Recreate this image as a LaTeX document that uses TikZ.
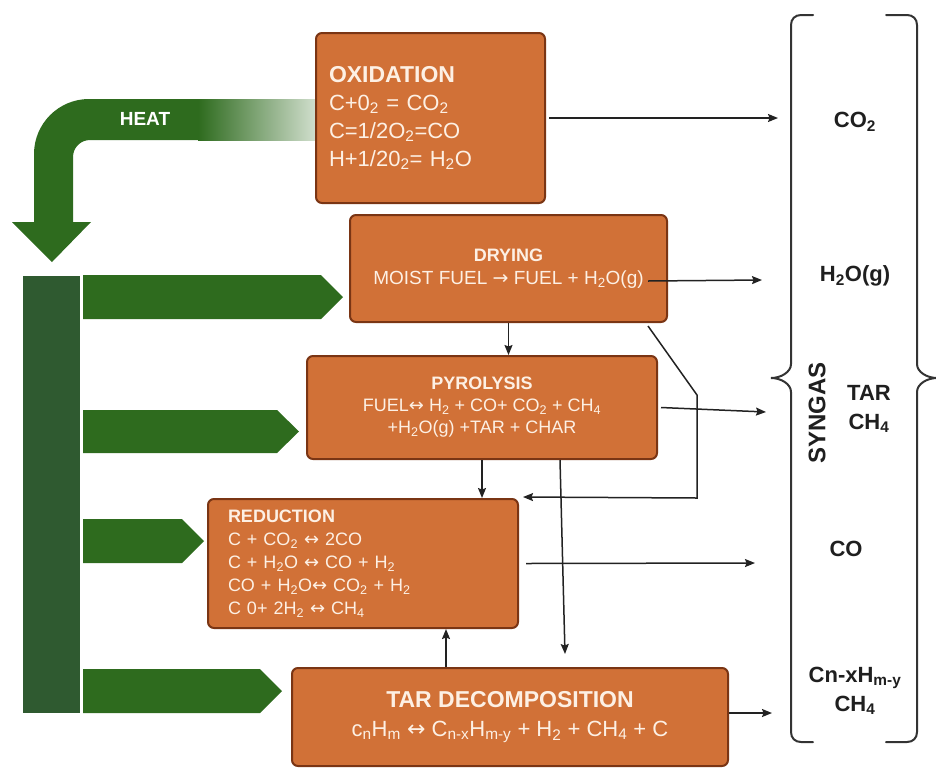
\documentclass[tikz,border=0pt]{standalone}
\usepackage{fontspec}
\setmainfont{Liberation Sans}
\newfontfamily\arrowfont{DejaVu Sans}
\newcommand{\myra}{{\arrowfont →}}
\newcommand{\mylr}{{\arrowfont ↔}}
\usetikzlibrary{arrows.meta,calc}
\definecolor{boxfill}{HTML}{D17137}
\definecolor{boxdraw}{HTML}{7A3514}
\definecolor{boxtext}{HTML}{FDF0E4}
\definecolor{heatgreen}{HTML}{2E6B1E}
\definecolor{bargreen}{HTML}{2F5A30}
\definecolor{lineblack}{HTML}{222222}
\definecolor{bracecol}{HTML}{333333}
\tikzset{
  procbox/.style={draw=boxdraw, line width=2pt, fill=boxfill, rounded corners=6pt, text=boxtext, inner sep=0pt},
  arr/.style={draw=lineblack, line width=1.5pt, -{Stealth[length=10pt,width=8pt,inset=1.5pt]}},
  outlbl/.style={font=\fontsize{22}{29}\selectfont\bfseries, text=black!88, align=center, inner sep=0pt},
  bracestyle/.style={draw=bracecol, line width=2pt, line cap=round},
  gfill/.style={fill=heatgreen},
}
\begin{document}
\begin{tikzpicture}[x=1pt,y=-1pt]
\useasboundingbox (0,0) rectangle (936,769);

% heat arrow
\fill[heatgreen] (200,99) -- (89,99) .. controls (58.6,99) and (34,123.6) .. (34,154) -- (34,222) -- (12,222) -- (52,262) -- (91,222) -- (73,222) -- (73,157) .. controls (73,147.6) and (80.6,140) .. (90,140) -- (200,140) -- cycle;
\shade[left color=heatgreen, right color=heatgreen!22!white] (198,99) rectangle (316,140);
\node[font=\fontsize{19}{22}\selectfont\bfseries, text=white] (heat) at (145,119) {HEAT};

% bar and green arrows
\fill[bargreen] (23,276) rectangle (80,713);
\fill[gfill] (83,275) -- (321,275) -- (343,297) -- (321,319) -- (83,319) -- cycle;
\fill[gfill] (83,410) -- (277,410) -- (299,431.5) -- (277,453) -- (83,453) -- cycle;
\fill[gfill] (83,519) -- (182,519) -- (204,541) -- (182,563) -- (83,563) -- cycle;
\fill[gfill] (83,669) -- (260,669) -- (282,691) -- (260,713) -- (83,713) -- cycle;

% process boxes
\node[procbox, minimum width=229pt, minimum height=170pt, text width=203pt, align=left, font=\fontsize{22}{28}\selectfont] (ox) at (430.5,118)
 {{\fontsize{23}{28}\selectfont\bfseries OXIDATION}\\C+0\textsubscript{2} = CO\textsubscript{2}\\C=1/2O\textsubscript{2}=CO\\H+1/20\textsubscript{2}= H\textsubscript{2}O};

\node[procbox, minimum width=317pt, minimum height=107pt, align=center, font=\fontsize{19}{23}\selectfont] (dry) at (508.5,268.5)
 {{\fontsize{18}{23}\selectfont\bfseries DRYING}\\MOIST FUEL \myra\ FUEL + H\textsubscript{2}O(g)};

\node[procbox, minimum width=350pt, minimum height=103pt, align=center, font=\fontsize{18}{22}\selectfont] (pyro) at (482,407.5)
 {{\bfseries PYROLYSIS}\\FUEL\mylr\ H\textsubscript{2} + CO+ CO\textsubscript{2} + CH\textsubscript{4}\\+H\textsubscript{2}O(g) +TAR + CHAR};

\node[procbox, minimum width=310pt, minimum height=129pt, text width=270pt, align=left, font=\fontsize{18}{23}\selectfont] (red) at (363,563.5)
 {{\bfseries REDUCTION}\\C + CO\textsubscript{2} \mylr\ 2CO\\C + H\textsubscript{2}O \mylr\ CO + H\textsubscript{2}\\CO + H\textsubscript{2}O\mylr\ CO\textsubscript{2} + H\textsubscript{2}\\C 0+ 2H\textsubscript{2} \mylr\ CH\textsubscript{4}};

\node[procbox, minimum width=436pt, minimum height=98pt, align=center, font=\fontsize{22}{29}\selectfont] (tar) at (510,717)
 {{\fontsize{23}{29}\selectfont\bfseries TAR DECOMPOSITION}\\c\textsubscript{n}H\textsubscript{m} \mylr\ C\textsubscript{n-x}H\textsubscript{m-y} + H\textsubscript{2} + CH\textsubscript{4} + C};

% braces
\draw[bracestyle] (813,15) -- (801,15) .. controls (795,15) and (791,19) .. (791,25) -- (791,364) .. controls (791,372) and (781,378) .. (771,378) .. controls (781,378) and (791,384) .. (791,392) -- (791,732) .. controls (791,738) and (795,742) .. (801,742) -- (813,742);
\draw[bracestyle] (886,15) -- (907,15) .. controls (913,15) and (917,19) .. (917,25) -- (917,364) .. controls (917,372) and (927,378) .. (937,378) .. controls (927,378) and (917,384) .. (917,392) -- (917,732) .. controls (917,738) and (913,742) .. (907,742) -- (886,742);

% output labels
\node[outlbl] (lco2) at (855,122) {CO\textsubscript{2}};
\node[outlbl] (lh2o) at (855,276) {H\textsubscript{2}O(g)};
\node[outlbl] (ltar) at (869,409) {TAR\\CH\textsubscript{4}};
\node[outlbl] (lco) at (846,549) {CO};
\node[outlbl] (lcn) at (855,691) {Cn-xH\textsubscript{m-y}\\CH\textsubscript{4}};
\node[outlbl, font=\fontsize{24}{28}\selectfont\bfseries, rotate=90] (syn) at (817,413) {SYNGAS};

% coordinates for free ends
\coordinate (e1) at (778,118);
\coordinate (e2) at (762,280);
\coordinate (e3) at (766,412);
\coordinate (e4) at (755,563);
\coordinate (e5) at (772,713);
\coordinate (b1) at (697,395);
\coordinate (b2) at (697,498);

% connectors
\draw[arr] ($(ox.east)+(3,0)$) -- (e1);
\draw[arr] ($(dry.south east)+(-20,-42)$) -- (e2);
\draw[arr] ($(pyro.east)+(3,0)$) -- (e3);
\draw[arr] ($(red.east)+(7,0)$) -- (e4);
\draw[arr] ($(tar.east)+(0,-4)$) -- (e5);
\draw[arr] (dry.south) -- (dry.south |- pyro.north);
\draw[arr] (pyro.south) -- (pyro.south |- red.north);
\draw[arr] ($(dry.south east)+(-20,3)$) -- (b1) -- (b2) -- ($(red.north east)+(4,-1)$);
\draw[arr] ($(pyro.south)+(78,0)$) -- ($(tar.north)+(55,-13)$);
\draw[arr] ($(tar.north)+(-64,0)$) -- ($(red.south)+(83,0)$);
\end{tikzpicture}
\end{document}
